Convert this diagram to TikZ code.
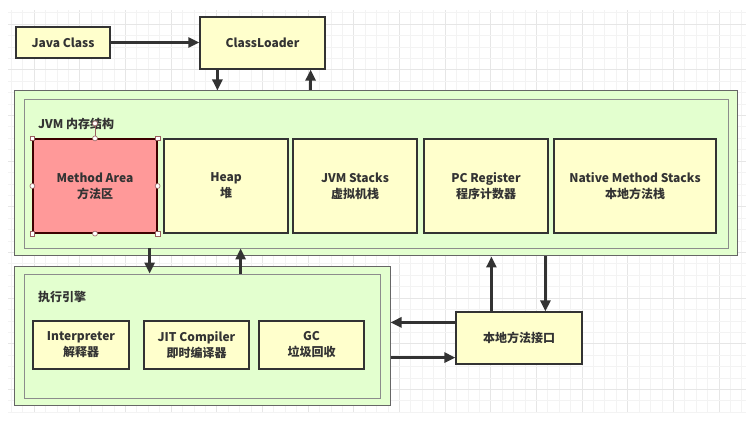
\documentclass[tikz,border=0pt]{standalone}
\usepackage{fontspec}
\setmainfont{Noto Sans CJK SC}
\usetikzlibrary{arrows.meta,calc}
\definecolor{ink}{HTML}{333333}
\definecolor{yel}{HTML}{FFFFCC}
\definecolor{grn}{HTML}{E3FFCF}
\definecolor{redf}{HTML}{FF9999}
\definecolor{gmin}{HTML}{F3F3F3}
\definecolor{gmaj}{HTML}{E6E6E6}
\definecolor{hdl}{HTML}{9A6060}
\tikzset{
  box/.style={draw=ink, line width=1.2pt, fill=yel, text=ink, align=center,
    font=\bfseries\fontsize{12}{16}\selectfont, inner sep=0pt},
  frameo/.style={draw=black!60, line width=1pt, fill=grn, inner sep=0pt},
  framei/.style={draw=black!45, line width=0.8pt, fill=grn, inner sep=0pt},
  arr/.style={draw=ink, line width=2.6pt, -{Triangle[length=11pt,width=10pt]}},
  lbl/.style={text=ink, anchor=west, font=\bfseries\fontsize{12}{14}\selectfont, inner sep=0pt},
  hsq/.style={draw=hdl, fill=white, line width=0.6pt, minimum size=4.5pt, inner sep=0pt},
  hci/.style={draw=hdl, fill=white, line width=0.6pt, circle, minimum size=5pt, inner sep=0pt}
}
\begin{document}
\begin{tikzpicture}[x=1pt,y=-1pt]
\useasboundingbox (0,0) rectangle (752,435);
% grid
\foreach \i in {0,...,64}{
  \pgfmathsetmacro{\xx}{11.2+\i*11.415}
  \pgfmathtruncatemacro{\m}{mod(\i,4)}
  \ifnum\m=2 \draw[gmaj, line width=0.8pt] (\xx,10) -- (\xx,412);
  \else \draw[gmin, line width=0.6pt] (\xx,10) -- (\xx,412); \fi
}
\foreach \j in {0,...,35}{
  \pgfmathsetmacro{\yy}{12.6+\j*11.415}
  \pgfmathtruncatemacro{\m}{mod(\j,4)}
  \ifnum\m=1 \draw[gmaj, line width=0.8pt] (8,\yy) -- (746,\yy);
  \else \draw[gmin, line width=0.6pt] (8,\yy) -- (746,\yy); \fi
}
% top
\node[box, minimum width=94pt, minimum height=31pt] (jc) at (63,42.5) {Java Class};
\node[box, minimum width=125pt, minimum height=52pt] (cl) at (262.5,43) {ClassLoader};
% JVM memory
\node[frameo, minimum width=723pt, minimum height=165pt] (jvmo) at (375.5,173.5) {};
\node[framei, minimum width=704pt, minimum height=149pt] (jvmi) at (376,173.5) {};
\node[lbl] (jvml) at (38,124) {JVM 内存结构};
\node[box, fill=redf, draw=black!60!red!60!black, minimum width=124pt, minimum height=94pt] (ma) at (95,186) {Method Area\\方法区};
\node[box, minimum width=124pt, minimum height=94pt] (heap) at (226,186) {Heap\\堆};
\node[box, minimum width=124pt, minimum height=94pt] (jvms) at (355,186) {JVM Stacks\\虚拟机栈};
\node[box, minimum width=124pt, minimum height=94pt] (pc) at (486,186) {PC Register\\程序计数器};
\node[box, minimum width=162pt, minimum height=94pt] (nms) at (635,186) {Native Method Stacks\\本地方法栈};
% selection handles on Method Area
\coordinate (rot) at ($(ma.north)+(0,15pt)$);
\draw[hdl, line width=0.6pt] (ma.north) -- (rot);
\node[hci] (h0) at (rot) {};
\node[hsq] (h1) at (ma.north west) {};
\node[hsq] (h2) at (ma.north east) {};
\node[hsq] (h3) at (ma.south west) {};
\node[hsq] (h4) at (ma.south east) {};
\node[hci] (h5) at (ma.north) {};
\node[hci] (h6) at (ma.south) {};
\node[hci] (h7) at (ma.west) {};
\node[hci] (h8) at (ma.east) {};
% execution engine
\node[frameo, minimum width=376pt, minimum height=138pt] (exo) at (202,336) {};
\node[framei, minimum width=356pt, minimum height=124pt] (exi) at (202,336) {};
\node[lbl] (exl) at (38,297) {执行引擎};
\node[box, minimum width=96pt, minimum height=48pt] (interp) at (81,345) {Interpreter\\解释器};
\node[box, minimum width=105pt, minimum height=48pt] (jit) at (196.5,345) {JIT Compiler\\即时编译器};
\node[box, minimum width=105pt, minimum height=48pt] (gc) at (311.5,345) {GC\\垃圾回收};
% native interface
\node[box, minimum width=126pt, minimum height=52pt] (ni) at (519,338) {本地方法接口};
% arrows
\draw[arr] (jc.east) -- (jc.east -| cl.west);
\draw[arr] ([xshift=18pt]cl.south west) -- ([xshift=18pt]cl.south west |- jvmo.north);
\draw[arr] ([xshift=-15pt]cl.south east |- jvmo.north) -- ([xshift=-15pt]cl.south east);
\draw[arr] ([xshift=126pt]jvmi.south west) -- ([xshift=126pt]jvmi.south west |- exi.north);
\draw[arr] ([xshift=217pt]exi.north west) -- ([xshift=217pt]exi.north west |- jvmi.south);
\draw[arr] ([yshift=-11pt]ni.north west) -- ([yshift=-11pt]ni.north west -| exo.east);
\draw[arr] ([yshift=7pt]ni.south west -| exo.east) -- ([yshift=7pt]ni.south west);
\draw[arr] ([xshift=36pt]ni.north west) -- ([xshift=36pt]ni.north west |- jvmo.south);
\draw[arr] ([xshift=90pt]ni.north west |- jvmo.south) -- ([xshift=90pt]ni.north west);
\end{tikzpicture}
\end{document}
